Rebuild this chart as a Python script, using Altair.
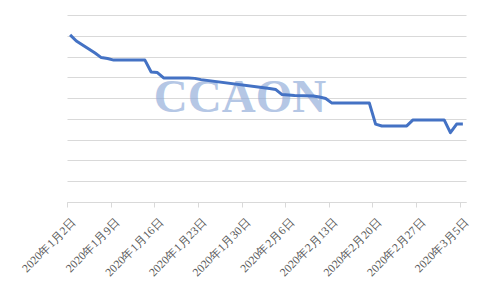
import altair as alt
import pandas as pd

# ---- data ----
dates = [
    "2020-01-02", "2020-01-03", "2020-01-06", "2020-01-07", "2020-01-08",
    "2020-01-09", "2020-01-10", "2020-01-13", "2020-01-14", "2020-01-15",
    "2020-01-16", "2020-01-17", "2020-01-20", "2020-01-21", "2020-01-22",
    "2020-01-23", "2020-02-03", "2020-02-04", "2020-02-05", "2020-02-06",
    "2020-02-07", "2020-02-10", "2020-02-11", "2020-02-12", "2020-02-13",
    "2020-02-14", "2020-02-17", "2020-02-18", "2020-02-19", "2020-02-20",
    "2020-02-21", "2020-02-24", "2020-02-25", "2020-02-26", "2020-02-27",
    "2020-02-28", "2020-03-02", "2020-03-03", "2020-03-04", "2020-03-05",
]
values = [
    8.04, 7.75, 7.17, 6.95, 6.91,
    6.83, 6.83, 6.83, 6.83, 6.26,
    6.23, 5.97, 5.97, 5.97, 5.95,
    5.89, 5.46, 5.41, 5.17, 5.15,
    5.13, 5.10, 5.05, 4.98, 4.76,
    4.76, 4.76, 4.76, 4.76, 3.75,
    3.66, 3.66, 3.66, 3.95, 3.95,
    3.95, 3.95, 3.34, 3.75, 3.75,
]
tick_dates = [
    "2020-01-02", "2020-01-09", "2020-01-16", "2020-01-23", "2020-01-30",
    "2020-02-06", "2020-02-13", "2020-02-20", "2020-02-27", "2020-03-05",
]
x_domain = ["2020-01-02", "2020-03-06"]
grid_levels = [0, 1, 2, 3, 4, 5, 6, 7, 8, 9]
watermark = ["CCAON"]


def dt(s):
    y, m, d = map(int, s.split("-"))
    return alt.DateTime(year=y, month=m, date=d, utc=True)


df = pd.DataFrame({"date": dates, "value": values})
wm_df = pd.DataFrame({"t": watermark})

LABEL_FONT = "Liberation Serif"

x = alt.X(
    "date:T",
    scale=alt.Scale(type="utc", domain=[dt(s) for s in x_domain]),
    axis=alt.Axis(
        values=[dt(s) for s in tick_dates],
        labelExpr="utcyear(datum.value) + '年' + (utcmonth(datum.value) + 1) + '月' + utcdate(datum.value) + '日'",
        labelAngle=-45,
        labelAlign="right",
        labelBaseline="top",
        labelPadding=9,
        labelOffset=3,
        labelOverlap=False,
        labelFont=LABEL_FONT,
        labelFontSize=11.6,
        labelColor="#595959",
        tickSize=5,
        tickColor="#d9d9d9",
        domainColor="#d9d9d9",
        grid=False,
        title=None,
    ),
)
y = alt.Y(
    "value:Q",
    scale=alt.Scale(domain=[grid_levels[0], grid_levels[-1]], nice=False),
    axis=alt.Axis(
        values=grid_levels,
        labels=False,
        ticks=False,
        domain=False,
        grid=True,
        gridColor="#d9d9d9",
        gridWidth=1,
        title=None,
    ),
)

line = alt.Chart(df).mark_line(
    color="#4472c4", strokeWidth=3, xOffset=3.1, strokeJoin="round"
).encode(x=x, y=y)

wm = alt.Chart(wm_df).mark_text(
    font="Liberation Serif",
    fontSize=47,
    fontWeight="bold",
    color="#8eaad8",
    opacity=0.65,
    align="center",
    baseline="alphabetic",
).encode(text="t:N", x=alt.value(173), y=alt.value(96.5))

chart = alt.layer(wm, line).properties(
    width=399,
    height=187,
    padding={"left": 67, "top": 15, "right": 14, "bottom": 86},
    autosize=alt.AutoSizeParams(type="none"),
).configure_view(stroke=None)

chart.save("out.html", embed_options={"renderer": "svg", "actions": False})
